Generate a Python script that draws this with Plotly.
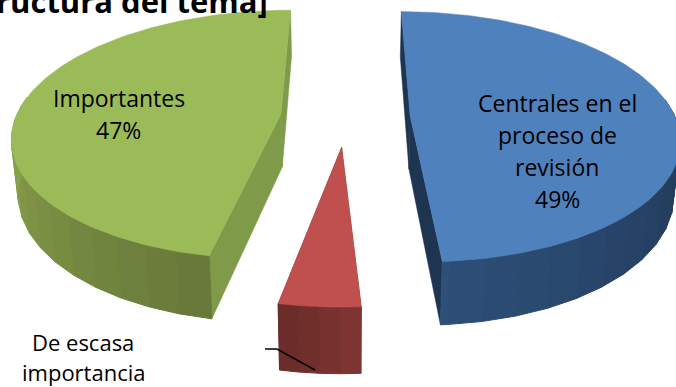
import numpy as np
import plotly.graph_objects as go

# Data
categories = ["Centrales en el proceso de revisión", "De escasa importancia", "Importantes"]
values = [49, 4, 47]
title_text = "ructura del tema]"

# Style / projection
top_colors = ["#4f81bd", "#c0504d", "#9bbb59"]
inner_colors = ["#1e3552", "#6b2c2a", "#7f9a48"]
wall_from = ["#1f3552", "#652a28", "#68793a"]
wall_to = ["#2e5079", "#7e3532", "#93ad50"]
explode = [0.235, 0.24, 0.255]
nudge_x = [0.0, -0.008, 0.0]
CX, CY, RX, RY, P, DEPTH, DX = 348, 117, 265, 122, 0.165, 53, 0.98


def project(X, Y):
    d = 1 + P * Y
    return CX + RX * X / d, CY - RY * Y / d, d


def drop(sx, d):
    return CX + (sx - CX) * DX, DEPTH / d


def hexrgb(h):
    return np.array([int(h[i:i + 2], 16) for i in (1, 3, 5)], float)


fig = go.Figure()


def poly(xs, ys, color, w=0.5):
    fig.add_trace(go.Scatter(x=list(xs) + [xs[0]], y=list(ys) + [ys[0]], mode="lines",
                             fill="toself", fillcolor=color,
                             line=dict(color=color, width=w),
                             hoverinfo="skip", showlegend=False))


total = sum(values)
start = 0.0
for i, v in enumerate(values):
    span = 360.0 * v / total
    a0, a1 = start, start + span
    start = a1
    mid = np.radians((a0 + a1) / 2)
    ex, ey = explode[i] * np.sin(mid) + nudge_x[i], explode[i] * np.cos(mid)
    t = np.radians(np.linspace(a0, a1, 160))
    X, Y = ex + np.sin(t), ey + np.cos(t)
    sx, sy, d = project(X, Y)
    ax, ay, ad = project(np.array([ex]), np.array([ey]))
    ax, ay, ad = ax[0], ay[0], ad[0]
    bx, bh = drop(sx, d)
    abx, abh = drop(ax, ad)

    # radial end walls
    for k in (0, -1):
        poly([sx[k], bx[k], abx, ax], [sy[k], sy[k] + bh[k], ay + abh, ay], inner_colors[i])

    # outer curved wall, drawn in shaded strips
    front = [j for j in range(len(t)) if np.cos(t[j]) < 0.15]
    step = 6 if i != 1 else 40
    idx = front[::step]
    if idx[-1] != front[-1]:
        idx.append(front[-1])
    c0, c1 = hexrgb(wall_from[i]), hexrgb(wall_to[i])
    for n in range(len(idx) - 1):
        j, j2 = idx[n], idx[n + 1]
        deg = np.degrees(t[j]) % 360
        if i == 2:
            f = np.clip((deg - a0) / 90, 0, 1)
        elif i == 0:
            f = np.clip((deg - 80) / (a1 - 80), 0, 1)
        else:
            f = 1 - (deg - a0) / (a1 - a0)
        c = c0 + (c1 - c0) * f
        col = "rgb(%d,%d,%d)" % tuple(c)
        poly([sx[j], sx[j2], bx[j2], bx[j]],
             [sy[j], sy[j2], sy[j2] + bh[j2], sy[j] + bh[j]], col, 1)

    # top face
    poly(list(sx) + [ax], list(sy) + [ay], top_colors[i])

# leader line of the small slice
fig.add_trace(go.Scatter(x=[265, 277, 315], y=[349, 349, 370], mode="lines",
                         line=dict(color="black", width=1.5),
                         hoverinfo="skip", showlegend=False))

label_lines = [
    ("Importantes", 119, 98), ("47%", 118, 130),
    ("Centrales en el", 557, 103), ("proceso de", 557, 135),
    ("revisión", 557, 167), ("49%", 557, 199),
    ("De escasa", 83, 342), ("importancia", 83, 372),
]
anns = [dict(text=s, x=x, y=y, xref="x", yref="y", showarrow=False,
             xanchor="center", yanchor="middle",
             font=dict(family="Open Sans", size=23 if y < 300 else 22, color="black"))
        for s, x, y in label_lines]
anns.append(dict(text="<b>%s</b>" % title_text, x=270, y=24, xref="x", yref="y", showarrow=False,
                 xanchor="right", yanchor="bottom",
                 font=dict(family="Open Sans", size=31, color="black")))

fig.update_layout(
    width=676, height=387, margin=dict(l=0, r=0, t=0, b=0),
    paper_bgcolor="white", plot_bgcolor="white", showlegend=False,
    xaxis=dict(range=[0, 676], visible=False, fixedrange=True),
    yaxis=dict(range=[387, 0], visible=False, fixedrange=True),
    annotations=anns,
)
fig.write_html("out.html", config=dict(displayModeBar=False),
               post_script="document.body.style.margin='0';document.body.style.overflow='hidden';")
